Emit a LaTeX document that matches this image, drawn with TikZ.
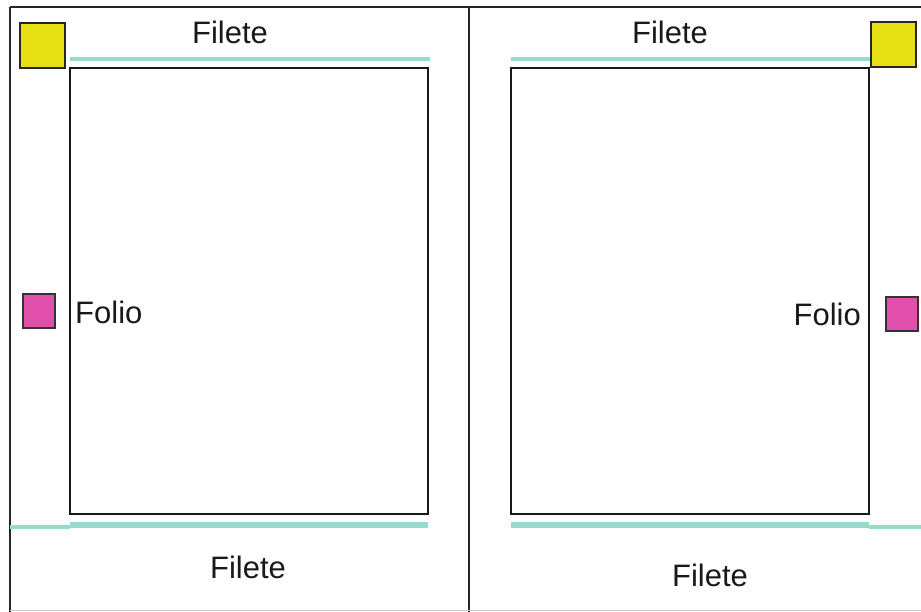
\documentclass[tikz,border=0pt]{standalone}
\usepackage{fontspec}
\setmainfont{Liberation Sans}
\definecolor{tealc}{HTML}{93DDCC}
\definecolor{yel}{HTML}{E6E015}
\definecolor{mag}{HTML}{E050AA}
\begin{document}
\begin{tikzpicture}[x=1pt,y=-1pt,
  frame/.style={draw=black!85,line width=2.2pt},
  pagebox/.style={draw=black!90,line width=2.4pt},
  lbl/.style={font=\fontsize{31}{36}\selectfont,inner sep=0pt,text=black!90},
  filetethin/.style={draw=tealc,line width=3.5pt},
  filetethick/.style={draw=tealc,line width=6.5pt},
  yelbox/.style={draw=black!85,line width=2.2pt,fill=yel},
  magbox/.style={draw=black!80,line width=1.8pt,fill=mag}]
\useasboundingbox (0,0) rectangle (921,612);
\fill[white] (0,0) rectangle (921,612);
% outer frames
\draw[frame] (10,7) -- (921,7);
\draw[frame] (10,7) -- (10,612);
\draw[frame] (469,7) -- (469,612);
\draw[black!20,line width=1pt] (10,610) -- (921,610);
% left page
\draw[filetethin] (70,59) -- (430,59);
\draw[pagebox] (70,68) rectangle (428,514);
\draw[filetethick] (70,525) -- (428,525);
\draw[filetethin] (10,527) -- (70,527);
\draw[yelbox] (20,23) rectangle (65,68);
\draw[magbox] (23,294) rectangle (55,328);
\node[lbl] (filete1) at (230,32) {Filete};
\node[lbl] (filete2) at (248,567) {Filete};
\node[lbl,anchor=west] (folio1) at (75,312) {Folio};
% right page
\draw[filetethin] (511,59) -- (870,59);
\draw[pagebox] (511,68) rectangle (869,514);
\draw[filetethick] (511,525) -- (869,525);
\draw[filetethin] (869,527) -- (921,527);
\draw[yelbox] (871,22) rectangle (916,67);
\draw[magbox] (886,297) rectangle (918,331);
\node[lbl] (filete3) at (670,32) {Filete};
\node[lbl] (filete4) at (710,575) {Filete};
\node[lbl,anchor=east] (folio2) at (861,314) {Folio};
\end{tikzpicture}
\end{document}
